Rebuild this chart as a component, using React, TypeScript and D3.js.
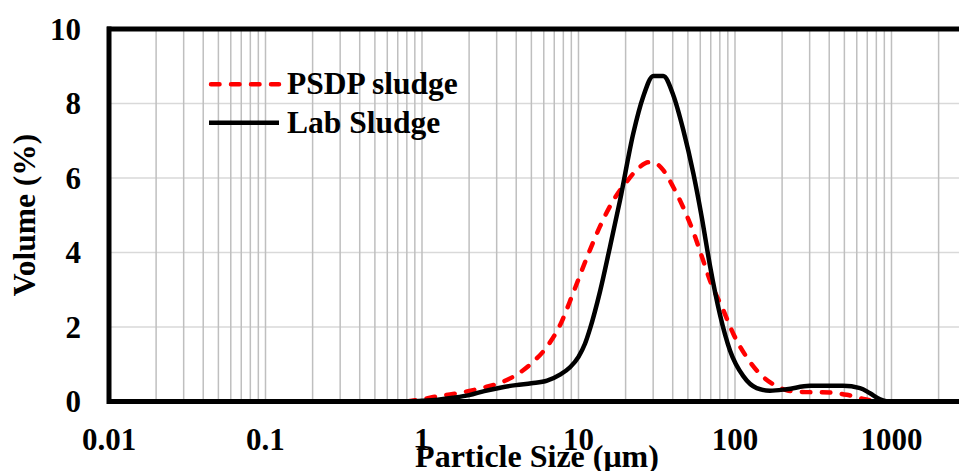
import React from "react";
import * as d3 from "d3";

// ---- data ----
const labSizes = [0.8, 1.0, 1.26, 1.58, 2.0, 2.5, 3.16, 3.98, 5.0, 6.3, 7.62, 8.83, 10, 11.0, 11.84, 13.72, 15.89, 18.42, 22.4, 25.9, 30.1, 34.8, 40.3, 46.8, 54.2, 61.3, 69.2, 80.2, 92.9, 113, 137.6, 167.5, 214, 301, 490, 629, 729, 845, 935];
const labValues = [0, 0.02, 0.05, 0.1, 0.17, 0.28, 0.37, 0.44, 0.49, 0.56, 0.72, 0.92, 1.2, 1.55, 1.95, 2.95, 4.15, 5.4, 7.2, 8.18, 8.74, 8.74, 8.23, 7.28, 6.12, 4.95, 3.65, 2.33, 1.37, 0.68, 0.36, 0.29, 0.33, 0.42, 0.42, 0.36, 0.22, 0.06, 0];

const psdpSizes = [0.8, 1.0, 1.18, 1.51, 1.94, 2.45, 3.15, 4.03, 5.12, 6.26, 7.62, 9.26, 11.28, 13.72, 16.7, 20.3, 24.7, 28.0, 31.5, 34.8, 40.3, 46.8, 54.2, 61.3, 69.2, 84.2, 97.5, 118.8, 144.5, 175.8, 214, 260, 405, 517, 661, 808];
const psdpValues = [0, 0.06, 0.12, 0.19, 0.27, 0.37, 0.5, 0.72, 1.06, 1.46, 2.05, 2.92, 3.85, 4.7, 5.4, 5.9, 6.3, 6.42, 6.38, 6.21, 5.76, 5.2, 4.55, 3.9, 3.25, 2.45, 1.82, 1.19, 0.74, 0.46, 0.3, 0.26, 0.24, 0.18, 0.07, 0];

const xTicks = [0.01, 0.1, 1, 10, 100, 1000];
const xTickLabels = ["0.01", "0.1", "1", "10", "100", "1000"];
const yTicks = [0, 2, 4, 6, 8, 10];
const seriesNames = ["PSDP sludge", "Lab Sludge"];
const xTitle = "Particle Size (\u03bcm)";
const yTitle = "Volume (%)";

const W = 959;
const H = 471;
const FONT = "'Liberation Serif', 'Times New Roman', serif";

export default function App() {
  const x = d3.scaleLog().domain([0.01, 2700]).range([109, 959]);
  const y = d3.scaleLinear().domain([0, 10]).range([401.5, 29]);

  const minor: number[] = [];
  for (let d = 0.01; d <= 1000; d *= 10) {
    for (let k = 1; k <= 9; k++) {
      const v = +(d * k).toPrecision(3);
      if (v <= 2700) minor.push(v);
    }
  }

  const line = d3
    .line<[number, number]>()
    .x((p) => x(p[0]))
    .y((p) => y(p[1]))
    .curve(d3.curveMonotoneX);

  const labPts = labSizes.map((s, i) => [s, labValues[i]] as [number, number]);
  const psdpPts = psdpSizes.map((s, i) => [s, psdpValues[i]] as [number, number]);

  const [x0, x1] = x.range();
  const [yb, yt] = y.range();

  return (
    <svg
      width={W}
      height={H}
      style={{ position: "absolute", left: 0, top: 0, background: "#fff" }}
      fontFamily={FONT}
      fontWeight="bold"
    >
      <defs>
        <clipPath id="plotClip">
          <rect x={x0} y={yt - 3} width={x1 - x0} height={yb - yt + 6} />
        </clipPath>
      </defs>
      <rect x={0} y={0} width={W} height={H} fill="#fff" />
      {/* horizontal gridlines */}
      {yTicks.map((t) => (
        <line key={"h" + t} x1={x0} x2={x1} y1={y(t)} y2={y(t)} stroke="#d9d9d9" strokeWidth={1.5} />
      ))}
      {/* vertical gridlines */}
      {minor.map((v) => (
        <line key={"v" + v} x1={x(v)} x2={x(v)} y1={yt} y2={yb} stroke="#bfbfbf" strokeWidth={1.5} />
      ))}
      {/* series */}
      <g clipPath="url(#plotClip)">
        <path d={line(psdpPts) || ""} fill="none" stroke="#ff0000" strokeWidth={4.5} strokeDasharray="8.5 11.5" strokeLinecap="round" strokeLinejoin="round" />
        <path d={line(labPts) || ""} fill="none" stroke="#000" strokeWidth={4.5} strokeLinejoin="round" />
      </g>
      {/* axes frame */}
      <line x1={x0 - 2} x2={x1} y1={yt} y2={yt} stroke="#000" strokeWidth={5} />
      <line x1={x0 - 2} x2={x1} y1={yb} y2={yb} stroke="#000" strokeWidth={5} />
      <line x1={x0} x2={x0} y1={yt - 2.5} y2={yb + 2.5} stroke="#000" strokeWidth={5} />
      {/* y tick labels */}
      {yTicks.map((t) => (
        <text key={"yl" + t} x={81} y={y(t) + 10.5} textAnchor="end" fontSize={31}>
          {t}
        </text>
      ))}
      {/* x tick labels */}
      {xTicks.map((t, i) => (
        <text key={"xl" + t} x={x(t)} y={449.5} textAnchor="middle" fontSize={31}>
          {xTickLabels[i]}
        </text>
      ))}
      {/* axis titles */}
      <text x={537} y={467} textAnchor="middle" fontSize={32}>
        {xTitle}
      </text>
      <text transform="translate(35,215) rotate(-90)" textAnchor="middle" fontSize={31.5}>
        {yTitle}
      </text>
      {/* legend */}
      <line x1={211} x2={279} y1={84.3} y2={84.3} stroke="#ff0000" strokeWidth={4.5} strokeDasharray="8.5 11.5" strokeLinecap="round" />
      <text x={287} y={94.3} fontSize={31.5}>
        {seriesNames[0]}
      </text>
      <line x1={209} x2={279} y1={122.7} y2={122.7} stroke="#000" strokeWidth={4.5} />
      <text x={287} y={133} fontSize={31.5}>
        {seriesNames[1]}
      </text>
    </svg>
  );
}
